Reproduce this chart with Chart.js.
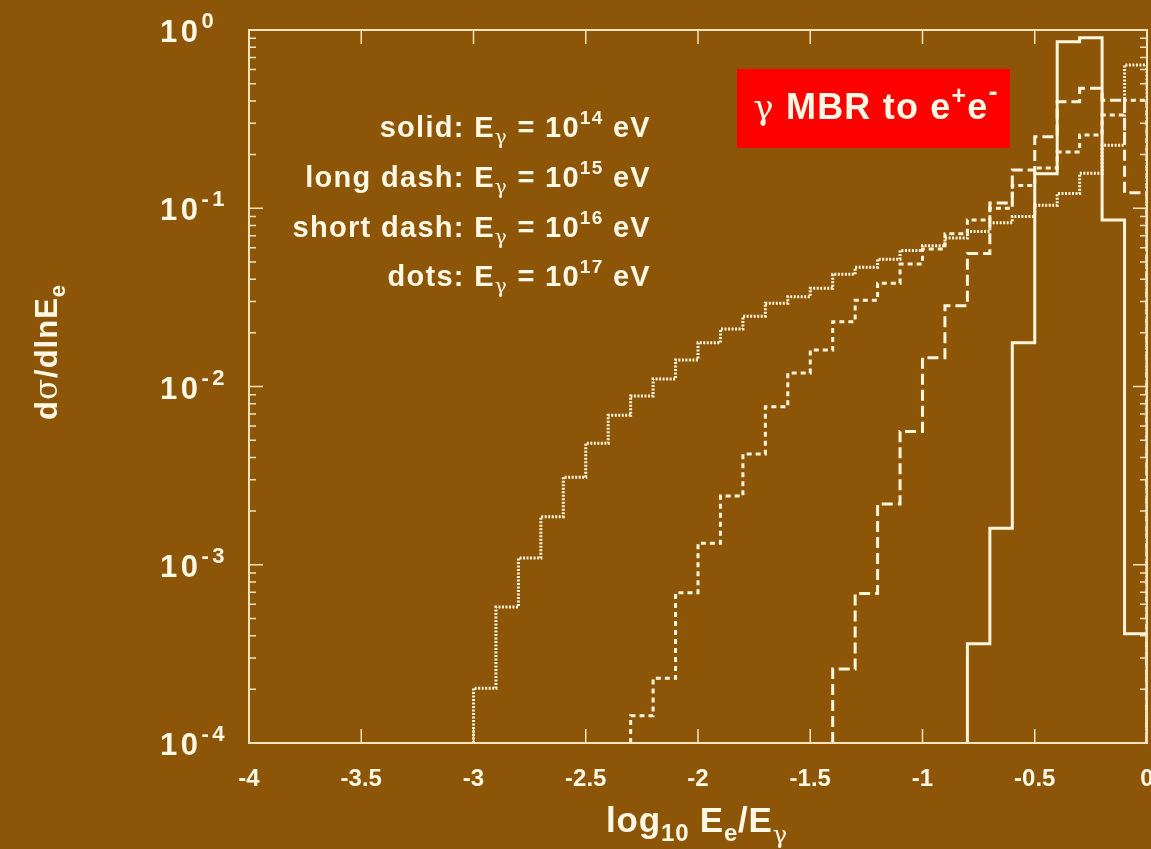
<!DOCTYPE html>
<html>
<head>
<meta charset="utf-8">
<script src="https://cdn.jsdelivr.net/npm/chart.js@4.4.1/dist/chart.umd.min.js"></script>
<style>
  html, body { margin: 0; padding: 0; background: #8c5508; }
  #wrap { width: 1151px; height: 849px; }
</style>
</head>
<body>
<div id="wrap"><canvas id="pairChart" width="1151" height="849"></canvas></div>
<script>
// left edges of the 0.1-wide bins in log10(Ee/Egamma), plus the closing edge at 0
const binEdges = [-3.0, -2.9, -2.8, -2.7, -2.6, -2.5, -2.4, -2.3, -2.2, -2.1,
                  -2.0, -1.9, -1.8, -1.7, -1.6, -1.5, -1.4, -1.3, -1.2, -1.1,
                  -1.0, -0.9, -0.8, -0.7, -0.6, -0.5, -0.4, -0.3, -0.2, -0.1, 0.0];

// dsigma/dlnEe per bin (null = nothing in that bin)
const dots17 = [2.03e-4, 5.8e-4, 1.09e-3, 1.86e-3, 3.1e-3, 4.8e-3, 6.9e-3, 8.85e-3, 0.011, 0.0141,
                0.0176, 0.021, 0.0248, 0.0293, 0.0319, 0.0356, 0.0426, 0.0467, 0.0518, 0.058,
                0.0617, 0.068, 0.074, 0.083, 0.090, 0.104, 0.121, 0.157, 0.226, 0.637];
const shortDash16 = [null, null, null, null, null, null, null, 1.42e-4, 2.31e-4, 6.96e-4,
                     1.32e-3, 2.43e-3, 4.18e-3, 7.7e-3, 0.0119, 0.016, 0.0231, 0.0305, 0.038, 0.0487,
                     0.059, 0.072, 0.086, 0.100, 0.134, 0.168, 0.207, 0.258, 0.333, 0.404];
const longDash15 = [null, null, null, null, null, null, null, null, null, null,
                    null, null, null, null, null, null, 2.6e-4, 6.9e-4, 2.19e-3, 5.6e-3,
                    0.0145, 0.0284, 0.0558, 0.107, 0.164, 0.252, 0.396, 0.471, 0.404, 0.122];
const solid14 = [null, null, null, null, null, null, null, null, null, null,
                 null, null, null, null, null, null, null, null, null, null,
                 null, null, 3.6e-4, 1.6e-3, 0.0176, 0.156, 0.86, 0.906, 0.086, 4.1e-4];

const xTicks = [-4, -3.5, -3, -2.5, -2, -1.5, -1, -0.5, 0];
const yDecades = [-4, -3, -2, -1, 0];
const yMin = 1e-4;

const FONT = "'Liberation Sans', Arial, Helvetica, sans-serif";
const GREEK = "'DejaVu Serif', 'Liberation Serif', serif";
const INK = '#fff8e4';
const LINE = '#fff6dc';
const FRAME = '#f4e4bc';

// turn a binned series into step points (rises from the floor, drops back at the end)
function histPoints(values) {
    const pts = [];
    const first = values.findIndex(v => v !== null);
    pts.push({ x: binEdges[first], y: yMin });
    for (let i = first; i < values.length; i++) {
        pts.push({ x: binEdges[i], y: values[i] });
    }
    const last = values[values.length - 1];
    pts.push({ x: binEdges[binEdges.length - 1], y: last });
    pts.push({ x: binEdges[binEdges.length - 1], y: yMin });
    return pts;
}

function makeSet(label, values, dash) {
    return {
        label: label,
        data: histPoints(values),
        borderColor: LINE,
        borderWidth: 3,
        borderDash: dash,
        stepped: 'before',   // horizontal across the bin, then vertical to the next
        fill: false,
        pointRadius: 0,
        borderCapStyle: 'butt'
    };
}

// draw a run of text pieces: [text, size, bold, dy, family]
function drawRich(ctx, parts, x, y, align, spacing) {
    ctx.letterSpacing = (spacing || 0) + 'px';
    let total = 0;
    parts.forEach(p => {
        ctx.font = (p[2] ? 'bold ' : '') + p[1] + 'px ' + (p[4] || FONT);
        total += ctx.measureText(p[0]).width;
    });
    let cx = align === 'right' ? x - total : align === 'center' ? x - total / 2 : x;
    parts.forEach(p => {
        ctx.font = (p[2] ? 'bold ' : '') + p[1] + 'px ' + (p[4] || FONT);
        ctx.fillText(p[0], cx, y + (p[3] || 0));
        cx += ctx.measureText(p[0]).width;
    });
    ctx.letterSpacing = '0px';
}

const decorPlugin = {
    id: 'decor',
    afterDraw(chart) {
        const ctx = chart.ctx;
        const area = chart.chartArea;
        const xs = chart.scales.x;
        const ys = chart.scales.y;
        ctx.save();

        // frame
        ctx.strokeStyle = FRAME;
        ctx.lineWidth = 2;
        ctx.strokeRect(area.left, area.top, area.right - area.left, area.bottom - area.top);

        // x ticks, bottom and top, pointing inwards
        ctx.lineWidth = 1.5;
        ctx.beginPath();
        xTicks.forEach(v => {
            const px = xs.getPixelForValue(v);
            ctx.moveTo(px, area.bottom); ctx.lineTo(px, area.bottom - 14);
            ctx.moveTo(px, area.top); ctx.lineTo(px, area.top + 14);
        });
        // y ticks, left and right, with log minors
        yDecades.forEach(d => {
            const py = ys.getPixelForValue(Math.pow(10, d));
            ctx.moveTo(area.left, py); ctx.lineTo(area.left + 14, py);
            ctx.moveTo(area.right, py); ctx.lineTo(area.right - 14, py);
            if (d < 0) {
                for (let k = 2; k <= 9; k++) {
                    const pm = ys.getPixelForValue(k * Math.pow(10, d));
                    ctx.moveTo(area.left, pm); ctx.lineTo(area.left + 7, pm);
                    ctx.moveTo(area.right, pm); ctx.lineTo(area.right - 7, pm);
                }
            }
        });
        ctx.stroke();

        ctx.fillStyle = INK;
        ctx.textBaseline = 'alphabetic';

        // y tick labels 10^n
        yDecades.forEach(d => {
            const py = ys.getPixelForValue(Math.pow(10, d));
            drawRich(ctx, [['10', 31, true, 0], [String(d), 22, true, -14]], 160, py + 12, 'left', 3.5);
        });

        // y axis title
        ctx.save();
        ctx.translate(57, 352);
        ctx.rotate(-Math.PI / 2);
        drawRich(ctx, [['d', 31, true, 0], ['\u03c3', 31, false, 0, GREEK], ['/dlnE', 31, true, 0], ['e', 22, true, 8]], 0, 0, 'center', 1);
        ctx.restore();

        // x axis title
        drawRich(ctx, [['log', 35, true, 0], ['10', 24, true, 9], [' E', 35, true, 0], ['e', 24, true, 9],
                       ['/E', 35, true, 0], ['\u03b3', 24, false, 11, GREEK]], 697, 832, 'center', 0.8);

        // legend text
        const legend = [['solid:', '14', 137], ['long dash:', '15', 187], ['short dash:', '16', 237], ['dots:', '17', 286]];
        legend.forEach(l => {
            drawRich(ctx, [[l[0] + ' E', 29, true, 0], ['\u03b3', 20, false, 7, GREEK], [' = 10', 29, true, 0],
                           [l[1], 19, true, -13], [' eV', 29, true, 0]], 651, l[2], 'right', 1.3);
        });

        // red label box
        ctx.fillStyle = '#ff0000';
        ctx.fillRect(737, 69, 273, 79);
        ctx.fillStyle = INK;
        drawRich(ctx, [['\u03b3', 34, false, 0, GREEK], [' MBR to e', 36, true, 0], ['+', 25, true, -15],
                       ['e', 36, true, 0], ['-', 27, true, -18]], 876, 119, 'center', 1.2);

        ctx.restore();
    }
};

document.addEventListener('DOMContentLoaded', function() {
    const ctx = document.getElementById('pairChart').getContext('2d');
    new Chart(ctx, {
        type: 'line',
        data: {
            datasets: [
                makeSet('solid: 1e14 eV', solid14, []),
                makeSet('long dash: 1e15 eV', longDash15, [11, 5]),
                makeSet('short dash: 1e16 eV', shortDash16, [5, 4]),
                makeSet('dots: 1e17 eV', dots17, [2, 1.5])
            ]
        },
        options: {
            responsive: false,
            animation: false,
            layout: { padding: { top: 30, right: 4, left: 0, bottom: 0 } },
            plugins: { legend: { display: false }, tooltip: { enabled: false } },
            scales: {
                x: {
                    type: 'linear', min: -4, max: 0,
                    grid: { display: false }, border: { display: false },
                    afterBuildTicks: s => { s.ticks = xTicks.map(v => ({ value: v })); },
                    ticks: {
                        color: INK, padding: 14, maxRotation: 0, autoSkip: false,
                        font: { family: FONT, size: 24, weight: 'bold' },
                        callback: v => String(v)
                    },
                    afterFit: s => { s.height = 106; s.paddingLeft = 0; s.paddingRight = 0; }
                },
                y: {
                    type: 'logarithmic', min: 1e-4, max: 1,
                    grid: { display: false }, border: { display: false },
                    ticks: { display: false },
                    afterFit: s => { s.width = 249; s.paddingTop = 0; s.paddingBottom = 0; }
                }
            }
        },
        plugins: [decorPlugin]
    });
});
</script>
</body>
</html>
